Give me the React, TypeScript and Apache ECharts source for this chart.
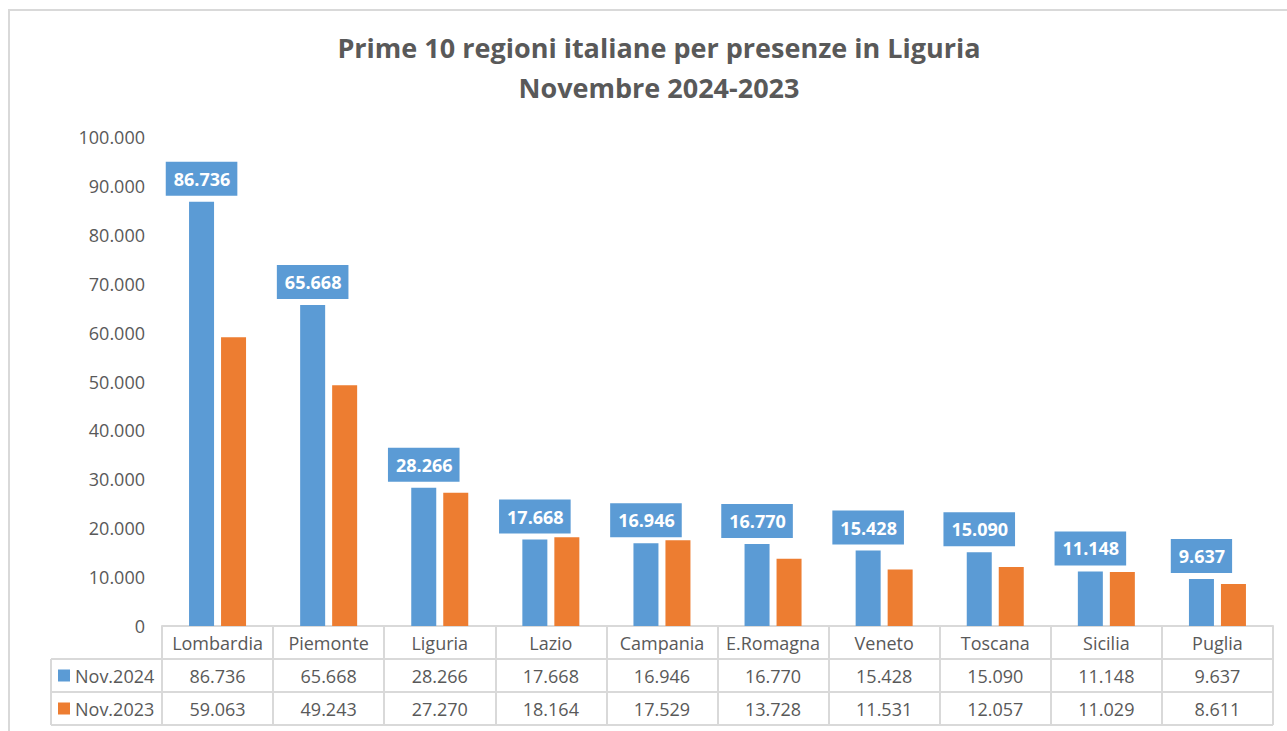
import React, { useEffect, useRef } from "react";
import * as echarts from "echarts";

const titleLines = ["Prime 10 regioni italiane per presenze in Liguria", "Novembre 2024-2023"];
const categories = ["Lombardia", "Piemonte", "Liguria", "Lazio", "Campania", "E.Romagna", "Veneto", "Toscana", "Sicilia", "Puglia"];
const seriesNames = ["Nov.2024", "Nov.2023"];
const nov2024 = [86736, 65668, 28266, 17668, 16946, 16770, 15428, 15090, 11148, 9637];
const nov2023 = [59063, 49243, 27270, 18164, 17529, 13728, 11531, 12057, 11029, 8611];
const yMin = 0;
const yMax = 100000;
const yStep = 10000;

const BLUE = "#5B9BD5";
const ORANGE = "#ED7D31";
const COLORS = [BLUE, ORANGE];
const TEXT = "#595959";
const LINE = "#D9D9D9";
const FONT = "'Open Sans', 'Noto Sans', sans-serif";

const fmt = (v: number) => String(v).replace(/\B(?=(\d{3})+(?!\d))/g, ".");

export default function App() {
  const ref = useRef<HTMLDivElement>(null);
  useEffect(() => {
    if (!ref.current) return;
    const chart = echarts.init(ref.current, undefined, { renderer: "svg" });
    const gridLeft = 162;
    const gridRight = 14;
    const gridTop = 137;
    const gridBottom = 105;
    const axisY = 731 - gridBottom;
    const tableLeft = 51;
    const tableRight = 1287 - gridRight;
    const rowH = 33;

    const legendGraphics: any[] = [];
    seriesNames.forEach((name, i) => {
      const cy = axisY + rowH * (i + 1) + rowH / 2;
      legendGraphics.push({
        type: "rect",
        shape: { x: 58, y: cy - 6, width: 12, height: 12 },
        style: { fill: COLORS[i] },
        silent: true,
      });
      legendGraphics.push({
        type: "text",
        x: 75,
        y: cy,
        style: {
          text: name,
          fill: TEXT,
          fontFamily: FONT,
          fontSize: 18,
          textAlign: "left",
          textVerticalAlign: "middle",
        },
        silent: true,
      });
    });

    chart.setOption({
      animation: false,
      backgroundColor: "#fff",
      textStyle: { fontFamily: FONT },
      title: {
        text: titleLines.join("\n"),
        left: 654,
        top: 22,
        textAlign: "center",
        textStyle: { fontFamily: FONT, fontSize: 27, fontWeight: "bold", color: TEXT, lineHeight: 40 },
      },
      grid: { left: gridLeft, right: gridRight, top: gridTop, bottom: gridBottom, containLabel: false },
      xAxis: {
        type: "category",
        data: categories,
        axisLine: { lineStyle: { color: LINE, width: 2 } },
        axisTick: { show: true, length: rowH * 3, lineStyle: { color: LINE, width: 2 } },
        axisLabel: {
          interval: 0,
          margin: 0,
          hideOverlap: false,
          formatter: (value: string, idx: number) =>
            `{c|${value}}\n{v|${fmt(nov2024[idx])}}\n{v|${fmt(nov2023[idx])}}`,
          rich: {
            c: { fontFamily: FONT, fontSize: 18, color: TEXT, lineHeight: rowH, height: rowH },
            v: { fontFamily: FONT, fontSize: 18, color: TEXT, lineHeight: rowH, height: rowH },
          },
        },
      },
      yAxis: {
        type: "value",
        min: yMin,
        max: yMax,
        interval: yStep,
        axisLine: { show: false },
        axisTick: { show: false },
        splitLine: { show: false },
        axisLabel: { fontFamily: FONT, fontSize: 18, color: TEXT, margin: 17, formatter: (v: number) => fmt(v) },
      },
      series: [
        {
          name: seriesNames[0],
          type: "bar",
          data: nov2024,
          barWidth: 25,
          barGap: "28%",
          itemStyle: { color: BLUE },
          label: {
            show: true,
            position: "top",
            distance: 6,
            formatter: (p: any) => fmt(p.value),
            backgroundColor: BLUE,
            color: "#fff",
            fontFamily: FONT,
            fontWeight: "bold",
            fontSize: 18,
            lineHeight: 22,
            padding: [6, 7, 6, 8],
          },
        },
        {
          name: seriesNames[1],
          type: "bar",
          data: nov2023,
          barWidth: 25,
          itemStyle: { color: ORANGE },
        },
      ],
      graphic: [
        { type: "rect", shape: { x: 9, y: 10, width: 1300, height: 760 }, style: { fill: "none", stroke: LINE, lineWidth: 2 }, silent: true },
        { type: "line", shape: { x1: tableLeft, y1: axisY + rowH, x2: tableRight, y2: axisY + rowH }, style: { stroke: LINE, lineWidth: 2 } },
        { type: "line", shape: { x1: tableLeft, y1: axisY + rowH * 2, x2: tableRight, y2: axisY + rowH * 2 }, style: { stroke: LINE, lineWidth: 2 } },
        { type: "line", shape: { x1: tableLeft, y1: axisY + rowH * 3, x2: tableRight, y2: axisY + rowH * 3 }, style: { stroke: LINE, lineWidth: 2 } },
        { type: "line", shape: { x1: tableLeft, y1: axisY + rowH, x2: tableLeft, y2: axisY + rowH * 3 }, style: { stroke: LINE, lineWidth: 2 } },
        ...legendGraphics,
      ],
    });
    return () => chart.dispose();
  }, []);
  return <div ref={ref} style={{ position: "fixed", left: 0, top: 0, width: 1287, height: 731 }} />;
}
